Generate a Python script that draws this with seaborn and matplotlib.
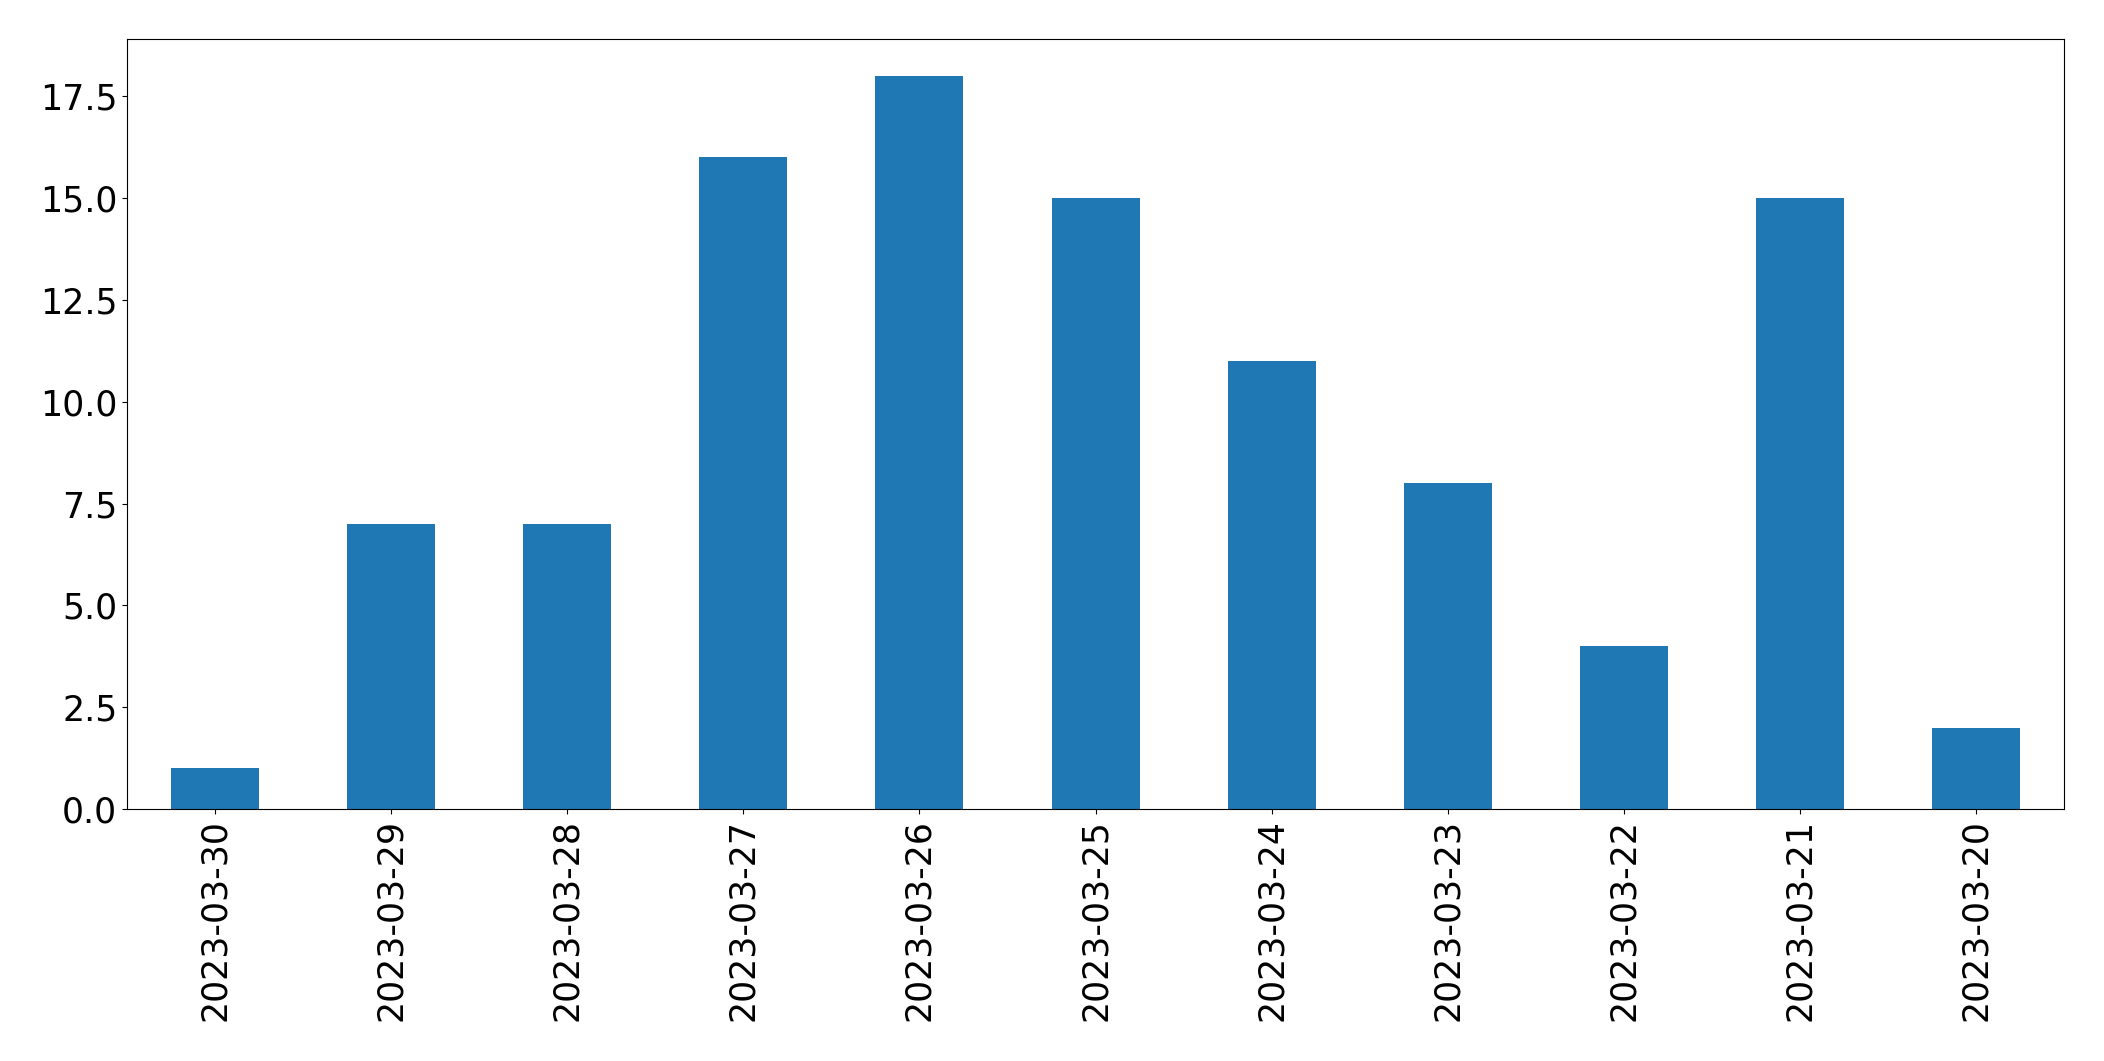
import numpy as np
import pandas as pd
import seaborn as sns
import matplotlib.pyplot as plt

dates = ['2023-03-30', '2023-03-29', '2023-03-28', '2023-03-27', '2023-03-26',
         '2023-03-25', '2023-03-24', '2023-03-23', '2023-03-22', '2023-03-21',
         '2023-03-20']
counts = [1, 7, 7, 16, 18, 15, 11, 8, 4, 15, 2]

data = pd.DataFrame({'date': dates, 'count': counts})

sns.set_style('ticks', {'axes.edgecolor': 'black', 'xtick.color': 'black',
                        'ytick.color': 'black', 'text.color': 'black',
                        'axes.labelcolor': 'black'})
plt.rcParams['font.family'] = ['DejaVu Sans']

fig = plt.figure(figsize=(21.04, 10.61), dpi=100)
ax = sns.barplot(data=data, x='date', y='count', order=dates, color='#1f77b4',
                 saturation=1, width=0.5, linewidth=0)
ax.set_xlabel('')
ax.set_ylabel('')
ax.set_xlim(-0.5, len(dates) - 0.5)
ax.set_ylim(0, max(counts) * 1.05)
ax.set_yticks(np.arange(0, 18, 2.5))
ax.tick_params(axis='x', labelrotation=90, labelsize=25, colors='black')
ax.tick_params(axis='y', labelsize=25, colors='black')
for s in ax.spines.values():
    s.set_visible(True)
    s.set_linewidth(0.8)
    s.set_color('black')

plt.subplots_adjust(left=0.0604, right=0.981, top=0.963, bottom=0.2375)
plt.savefig('out.png', dpi=100)
